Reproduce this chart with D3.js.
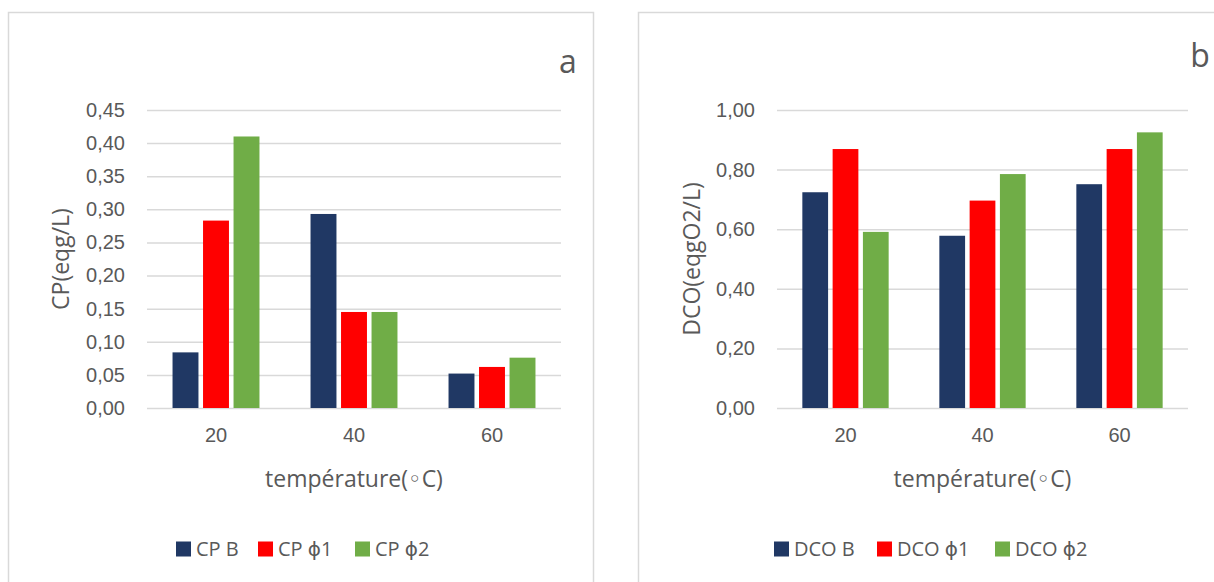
<!DOCTYPE html>
<html>
<head>
<meta charset="utf-8">
<script src="https://cdn.jsdelivr.net/npm/d3@7"></script>
<style>
  html, body { margin: 0; padding: 0; background: #fff; }
  svg { display: block; font-family: "Open Sans", "DejaVu Sans", sans-serif; }
</style>
</head>
<body>
<svg id="chart" width="1214" height="582"></svg>
<script>
// Temperatures (°C) on the category axis
const categories = ["20", "40", "60"];

// Panel a: CP (eqg/L)
const cpB    = [0.084, 0.293, 0.052];
const cpPhi1 = [0.283, 0.145, 0.062];
const cpPhi2 = [0.410, 0.145, 0.076];
const cpTicks = [0, 0.05, 0.10, 0.15, 0.20, 0.25, 0.30, 0.35, 0.40, 0.45];

// Panel b: DCO (eqgO2/L)
const dcoB    = [0.724, 0.578, 0.751];
const dcoPhi1 = [0.869, 0.696, 0.869];
const dcoPhi2 = [0.591, 0.785, 0.925];
const dcoTicks = [0, 0.20, 0.40, 0.60, 0.80, 1.00];

const seriesColors = ["#203864", "#ff0000", "#70ad47"];
const textColor = "#595959";
const gridColor = "#d9d9d9";

const frLocale = d3.formatLocale({ decimal: ",", thousands: " ", grouping: [3], currency: ["", " €"] });
const fmt = frLocale.format(".2f");

const svg = d3.select("#chart");

function drawPanel(cfg) {
  const g = svg.append("g");

  // chart frame
  g.append("rect")
    .attr("x", cfg.frame[0]).attr("y", cfg.frame[1])
    .attr("width", cfg.frame[2]).attr("height", cfg.frame[3])
    .attr("fill", "none").attr("stroke", gridColor).attr("stroke-width", 1.5);

  const x0 = d3.scaleBand().domain(categories).range(cfg.xRange).padding(0);
  const groupW = x0.bandwidth() * 0.63;
  const names = cfg.series.map(s => s.name);
  const x1 = d3.scaleBand().domain(names).range([0, groupW]).paddingInner(0.15).paddingOuter(0);
  const y = d3.scaleLinear().domain([0, cfg.yMax]).range(cfg.yRange);

  // horizontal gridlines + value labels
  const yAxis = d3.axisLeft(y)
    .tickValues(cfg.ticks)
    .tickFormat(fmt)
    .tickSize(-(cfg.xRange[1] - cfg.xRange[0]))
    .tickPadding(22);
  const ya = g.append("g")
    .attr("transform", `translate(${cfg.xRange[0]},0)`)
    .call(yAxis);
  ya.select(".domain").remove();
  ya.selectAll(".tick line").attr("stroke", gridColor).attr("stroke-width", 1.5);
  ya.selectAll(".tick text")
    .attr("fill", textColor).style("font-size", "20px");

  // bars
  const groups = g.selectAll(".cat")
    .data(categories)
    .join("g")
    .attr("transform", d => `translate(${x0(d) + (x0.bandwidth() - groupW) / 2},0)`);

  groups.selectAll("rect")
    .data((d, i) => cfg.series.map((s, k) => ({ name: s.name, value: s.values[i], k })))
    .join("rect")
    .attr("x", d => x1(d.name))
    .attr("width", x1.bandwidth())
    .attr("y", d => y(d.value))
    .attr("height", d => y(0) - y(d.value))
    .attr("fill", d => seriesColors[d.k]);

  // category axis labels
  const xAxis = d3.axisBottom(x0).tickSize(0).tickPadding(20);
  const xa = g.append("g")
    .attr("transform", `translate(0,${cfg.yRange[0]})`)
    .call(xAxis);
  xa.select(".domain").remove();
  xa.selectAll(".tick text").attr("fill", textColor).style("font-size", "20px");

  // axis titles
  g.append("text")
    .attr("x", (cfg.xRange[0] + cfg.xRange[1]) / 2)
    .attr("y", 487)
    .attr("text-anchor", "middle")
    .attr("fill", textColor)
    .style("font-size", "23px")
    .text("température(◦C)");

  g.append("text")
    .attr("transform", `translate(${cfg.yTitleX},${(cfg.yRange[0] + cfg.yRange[1]) / 2}) rotate(-90)`)
    .attr("text-anchor", "middle")
    .attr("dy", "0.35em")
    .attr("fill", textColor)
    .style("font-size", "23px")
    .text(cfg.yTitle);

  // panel letter
  g.append("text")
    .attr("x", cfg.letterPos[0]).attr("y", cfg.letterPos[1])
    .attr("text-anchor", "middle")
    .attr("fill", textColor)
    .style("font-size", "32px")
    .text(cfg.letter);

  // legend
  const leg = g.append("g").attr("transform", `translate(0,549)`);
  cfg.series.forEach((s, k) => {
    const lx = cfg.legendX[k];
    leg.append("rect")
      .attr("x", lx).attr("y", -7.5)
      .attr("width", 15).attr("height", 15)
      .attr("fill", seriesColors[k]);
    leg.append("text")
      .attr("x", lx + 20).attr("y", 0)
      .attr("dy", "0.35em")
      .attr("fill", textColor)
      .style("font-size", "20px")
      .text(s.name);
  });
}

drawPanel({
  frame: [8.5, 12.5, 585, 620],
  xRange: [147, 561],
  yRange: [408, 110],
  yMax: 0.45,
  ticks: cpTicks,
  series: [
    { name: "CP B", values: cpB },
    { name: "CP ϕ1", values: cpPhi1 },
    { name: "CP ϕ2", values: cpPhi2 }
  ],
  yTitle: "CP(eqg/L)",
  yTitleX: 61,
  letter: "a",
  letterPos: [568, 73],
  legendX: [176, 258, 355]
});

drawPanel({
  frame: [638.5, 12.5, 620, 620],
  xRange: [777, 1188],
  yRange: [408, 110],
  yMax: 1.0,
  ticks: dcoTicks,
  series: [
    { name: "DCO B", values: dcoB },
    { name: "DCO ϕ1", values: dcoPhi1 },
    { name: "DCO ϕ2", values: dcoPhi2 }
  ],
  yTitle: "DCO(eqgO2/L)",
  yTitleX: 692,
  letter: "b",
  letterPos: [1200, 67],
  legendX: [774, 877, 995]
});
</script>
</body>
</html>
